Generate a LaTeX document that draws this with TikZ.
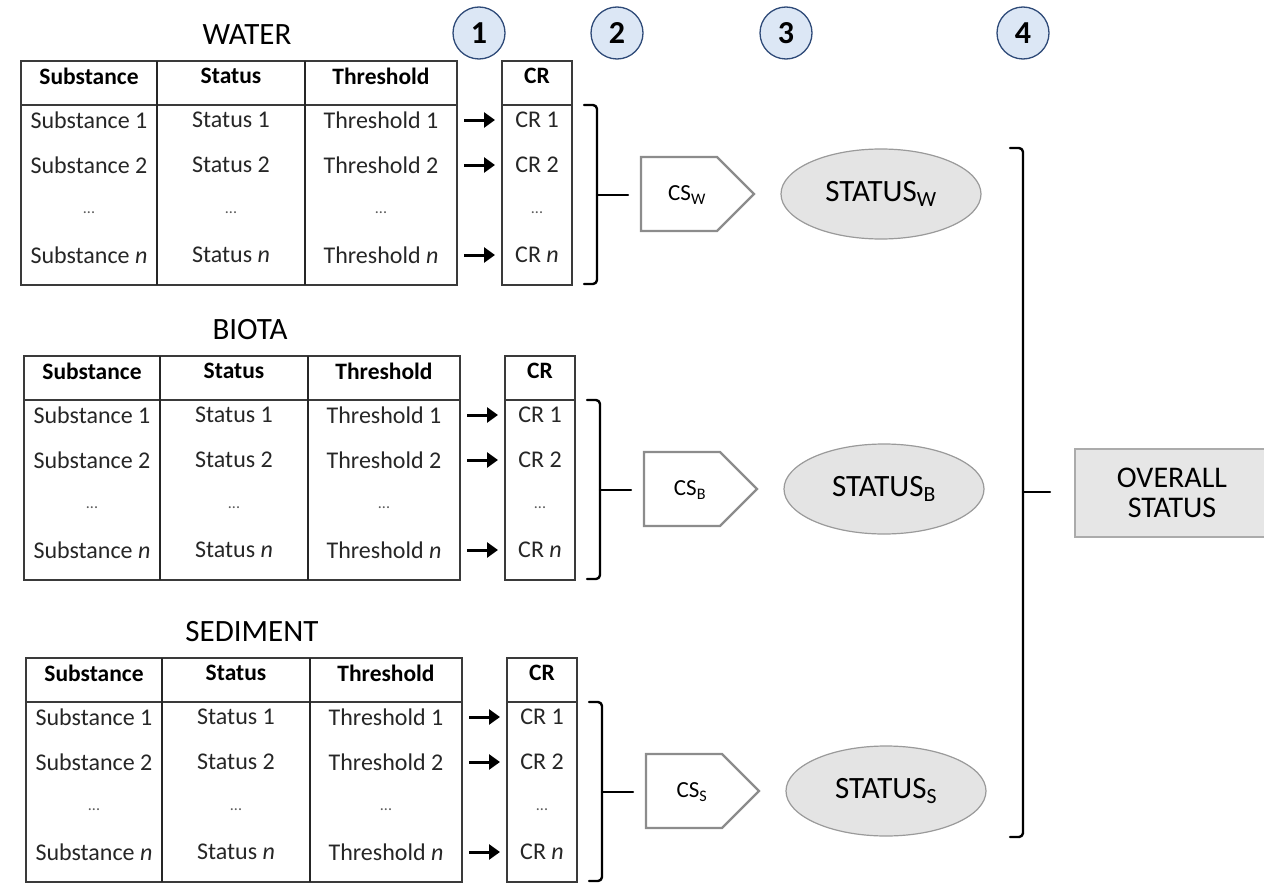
\documentclass[tikz,border=0pt]{standalone}
\usepackage{fontspec}
\setmainfont{Carlito}
\usetikzlibrary{arrows.meta,shapes.geometric}

\definecolor{framecol}{HTML}{3A3A3A}
\definecolor{bodytext}{HTML}{262626}
\definecolor{csline}{HTML}{8C8C8C}
\definecolor{ellfill}{HTML}{E4E4E4}
\definecolor{ellline}{HTML}{9A9A9A}
\definecolor{boxfill}{HTML}{E6E6E6}
\definecolor{boxline}{HTML}{ABABAB}
\definecolor{circfill}{HTML}{DCE7F5}
\definecolor{circline}{HTML}{2E4A78}

\tikzset{
  frame/.style={draw=framecol, line width=1.8pt},
  divider/.style={draw=black!85, line width=1.5pt},
  titletext/.style={font=\fontsize{31}{33}\selectfont, inner sep=0pt},
  headcell/.style={font=\fontsize{23.5}{26}\selectfont\bfseries, inner sep=0pt},
  cell/.style={font=\fontsize{24}{26}\selectfont, text=bodytext, inner sep=0pt},
  dots/.style={font=\fontsize{16}{16}\selectfont, text=black!65, inner sep=0pt},
  rowarrow/.style={line width=3pt, -{Triangle[length=11pt,width=15pt]}},
  brace/.style={line width=2.4pt, line cap=round, line join=round},
  csborder/.style={draw=csline, fill=white, line width=2.2pt, line join=miter},
  cstext/.style={font=\fontsize{23}{24}\selectfont, inner sep=0pt},
  statusell/.style={ellipse, draw=ellline, fill=ellfill, line width=1.2pt,
    minimum width=200pt, minimum height=90pt, inner sep=0pt,
    font=\fontsize{31}{32}\selectfont},
  overall/.style={rectangle, draw=boxline, fill=boxfill, line width=1.2pt,
    minimum width=194pt, minimum height=88pt, align=center,
    font=\fontsize{30}{30}\selectfont},
  stepcircle/.style={circle, draw=circline, fill=circfill, line width=1.3pt,
    minimum size=52pt, inner sep=0pt, font=\fontsize{32}{32}\selectfont\bfseries}
}

% One compartment: title, substance table, CR column, bracket, CS and status
% #1 name prefix, #2 title, #3 subscript letter, #4 shift of the top-left corner
\newcommand{\compartment}[4]{%
\begin{scope}[shift={#4}]
  \node[titletext] (#1-title) at (226,-26) {#2};
  % substance table
  \draw[frame] (0,0) rectangle (436,224);
  \draw[frame] (0,44) -- (436,44);
  \draw[divider] (136,0) -- (136,224) (284,0) -- (284,224);
  % CR column
  \draw[frame] (481,0) rectangle (551,224);
  \draw[frame] (481,44) -- (551,44);
  % headers
  \node[headcell] (#1-hsub) at (68,15) {Substance};
  \node[headcell] (#1-hsta) at (210,15) {Status};
  \node[headcell] (#1-hthr) at (360,15) {Threshold};
  \node[headcell] (#1-hcr)  at (516,15) {CR};
  % rows
  \foreach \r/\y/\lab in {1/59/1, 2/104/2, n/194/\emph{n}}{
    \node[cell] (#1-sub\r) at (68,\y) {Substance \lab};
    \node[cell] (#1-sta\r) at (210,\y) {Status \lab};
    \node[cell] (#1-thr\r) at (360,\y) {Threshold \lab};
    \node[cell] (#1-cr\r)  at (516,\y) {CR \lab};
    \coordinate (#1-out\r) at (443,\y);
    \coordinate (#1-in\r)  at (474,\y);
    \draw[rowarrow] (#1-out\r) -- (#1-in\r);
  }
  \foreach \c/\x in {sub/68, sta/210, thr/360, cr/516}{
    \node[dots] (#1-\c dots) at (\x,152) {...};
  }
  % bracket gathering the CR values
  \draw[brace, rounded corners=4pt] (563,44) -- (576,44) -- (576,223) -- (563,223);
  \coordinate (#1-bk) at (576,134);
  \coordinate (#1-tick) at (607,134);
  \draw[brace] (#1-bk) -- (#1-tick);
  % combined score
  \draw[csborder] (620,96) -- (696,96) -- (733,133) -- (696,170) -- (620,170) -- cycle;
  \node[cstext] (#1-cs) at (666,134) {CS\textsubscript{#3}};
  % compartment status
  \node[statusell] (#1-st) at (860,133) {STATUS\textsubscript{#3}};
\end{scope}%
}

\begin{document}
\begin{tikzpicture}[x=1pt, y=-1pt]
  \useasboundingbox (0,0) rectangle (1264,883);

  % step numbers
  \node[stepcircle] (n1) at (479,33) {1};
  \node[stepcircle] (n2) at (617,33) {2};
  \node[stepcircle] (n3) at (786,33) {3};
  \node[stepcircle] (n4) at (1023,33) {4};

  \compartment{w}{WATER}{W}{(21,61)}
  \compartment{b}{BIOTA}{B}{(24,356)}
  \compartment{s}{SEDIMENT}{S}{(26,658)}

  % final aggregation
  \draw[brace, rounded corners=4pt] (1010,148) -- (1023,148) -- (1023,837) -- (1010,837);
  \coordinate (allbk) at (1023,492);
  \coordinate (alltick) at (1050,492);
  \draw[brace] (allbk) -- (alltick);
  \node[overall] (overall) at (1172,493) {\rule{0pt}{8pt}OVERALL\\STATUS};
\end{tikzpicture}
\end{document}
